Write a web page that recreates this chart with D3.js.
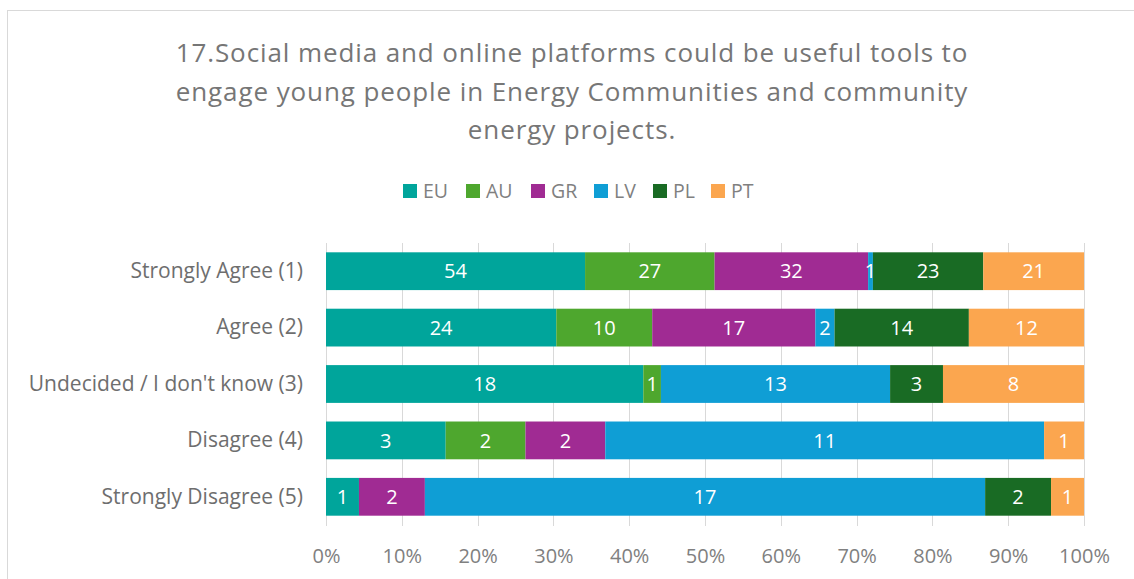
<!DOCTYPE html>
<html>
<head>
<meta charset="utf-8">
<script src="https://cdn.jsdelivr.net/npm/d3@7"></script>
<style>
    body { margin: 0; background: #fff; }
    svg { display: block; font-family: "Open Sans", sans-serif; }
</style>
</head>
<body>
<svg id="chart" width="1134" height="579"></svg>
<script>
"use strict";

var titleLines = [
    "17.Social media and online platforms could be useful tools to",
    "engage young people in Energy Communities and community",
    "energy projects."
];
var categories = ["Strongly Agree (1)", "Agree (2)", "Undecided / I don't know (3)", "Disagree (4)", "Strongly Disagree (5)"];
var seriesNames = ["EU", "AU", "GR", "LV", "PL", "PT"];
var EU = [54, 24, 18, 3, 1];
var AU = [27, 10, 1, 2, 0];
var GR = [32, 17, 0, 2, 2];
var LV = [1, 2, 13, 11, 17];
var PL = [23, 14, 3, 0, 2];
var PT = [21, 12, 8, 1, 1];
var colors = ["#00a59b", "#4ea72e", "#a02b93", "#0f9ed5", "#196b24", "#fba64f"];
var tickValues = [0, 0.1, 0.2, 0.3, 0.4, 0.5, 0.6, 0.7, 0.8, 0.9, 1];

var seriesValues = [EU, AU, GR, LV, PL, PT];

// rows of {category, EU, AU, ...} for d3.stack, normalised per category
var table = categories.map(function (cat, i) {
    var row = { category: cat };
    seriesNames.forEach(function (s, j) { row[s] = seriesValues[j][i]; });
    return row;
});

var stacked = d3.stack()
    .keys(seriesNames)
    .offset(d3.stackOffsetExpand)(table);

var svg = d3.select("#chart");

// chart frame
svg.append("rect")
    .attr("x", 7.5).attr("y", 10.5)
    .attr("width", 1140).attr("height", 600)
    .attr("fill", "#fff")
    .attr("stroke", "#d9d9d9");

// title
svg.append("g").selectAll("text")
    .data(titleLines)
    .enter().append("text")
        .attr("x", 572)
        .attr("y", function (d, i) { return 62 + i * 38.5; })
        .attr("text-anchor", "middle")
        .attr("font-size", 26)
        .attr("letter-spacing", 0.9)
        .attr("fill", "#767676")
        .text(function (d) { return d; });

var x = d3.scaleLinear().domain([0, 1]).range([326, 1084]);
var y = d3.scaleBand().domain(categories).range([243, 525]).paddingInner(0.33).paddingOuter(0.165);

// gridlines
svg.append("g").selectAll("line")
    .data(tickValues)
    .enter().append("line")
        .attr("x1", function (d) { return Math.round(x(d)) + 0.5; })
        .attr("x2", function (d) { return Math.round(x(d)) + 0.5; })
        .attr("y1", 243).attr("y2", 526)
        .attr("stroke", "#d9d9d9")
        .attr("stroke-width", 1);

// x axis labels
var xAxis = d3.axisBottom(x)
    .tickValues(tickValues)
    .tickFormat(d3.format(".0%"))
    .tickSize(0)
    .tickPadding(0);
var gx = svg.append("g").attr("transform", "translate(0,549)").call(xAxis);
gx.select(".domain").remove();
gx.selectAll("text")
    .attr("font-family", "Open Sans, sans-serif")
    .attr("font-size", 20)
    .attr("fill", "#808080");

// y axis labels
var yAxis = d3.axisLeft(y).tickSize(0).tickPadding(0);
var gy = svg.append("g").attr("transform", "translate(303,0)").call(yAxis);
gy.select(".domain").remove();
gy.selectAll("text")
    .attr("font-family", "Open Sans, sans-serif")
    .attr("font-size", 21)
    .attr("fill", "#6e6e6e");

// bars
var layers = svg.append("g").selectAll("g")
    .data(stacked)
    .enter().append("g")
        .attr("fill", function (d, i) { return colors[i]; });

layers.selectAll("rect")
    .data(function (d) { return d; })
    .enter().append("rect")
        .attr("x", function (d) { return x(d[0]); })
        .attr("y", function (d) { return y(d.data.category); })
        .attr("width", function (d) { return x(d[1]) - x(d[0]); })
        .attr("height", y.bandwidth());

// data labels
layers.each(function (layer) {
    d3.select(this).selectAll("text")
        .data(layer.filter(function (d) { return d.data[layer.key] > 0; }))
        .enter().append("text")
            .attr("x", function (d) { return (x(d[0]) + x(d[1])) / 2; })
            .attr("y", function (d) { return y(d.data.category) + y.bandwidth() / 2; })
            .attr("dy", "0.36em")
            .attr("text-anchor", "middle")
            .attr("font-size", 20)
            .attr("fill", "#fff")
            .text(function (d) { return d.data[layer.key]; });
});

// legend
var legendX = [403, 466, 531, 594, 653, 711];
var legend = svg.append("g").selectAll("g")
    .data(seriesNames)
    .enter().append("g")
        .attr("transform", function (d, i) { return "translate(" + legendX[i] + ",184)"; });
legend.append("rect")
    .attr("width", 14).attr("height", 14)
    .attr("fill", function (d, i) { return colors[i]; });
legend.append("text")
    .attr("x", 20).attr("y", 7)
    .attr("dy", "0.36em")
    .attr("font-size", 19.5)
    .attr("fill", "#808080")
    .text(function (d) { return d; });
</script>
</body>
</html>
